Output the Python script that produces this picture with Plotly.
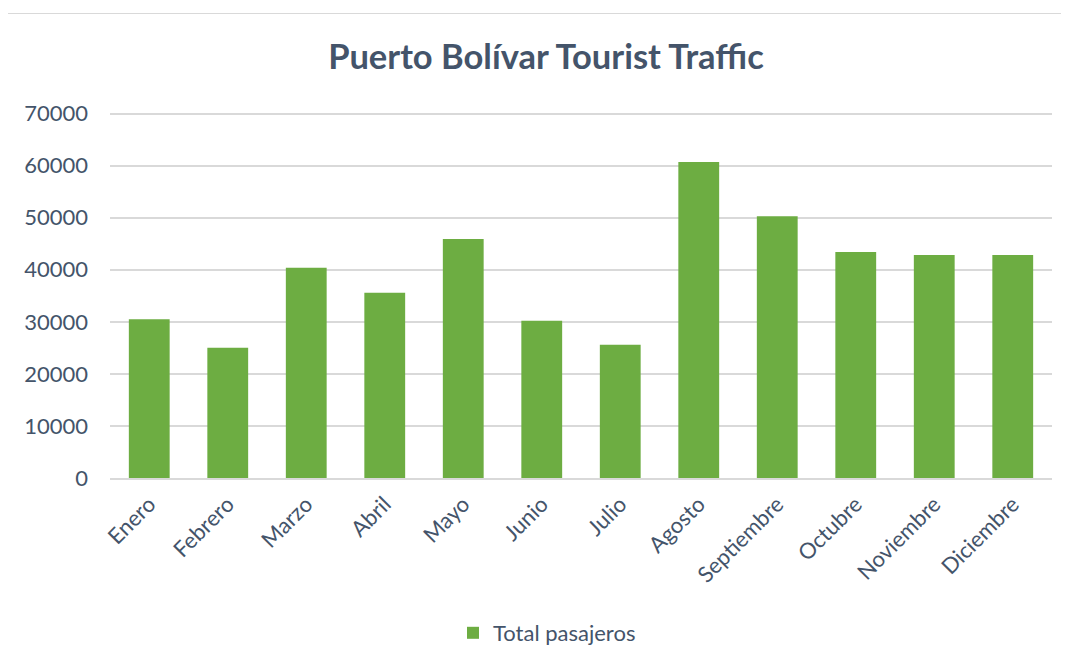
import plotly.graph_objects as go

# monthly passengers
months = ["Enero", "Febrero", "Marzo", "Abril", "Mayo", "Junio", "Julio",
          "Agosto", "Septiembre", "Octubre", "Noviembre", "Diciembre"]
total_pasajeros = [30500, 25000, 40400, 35600, 45900, 30200, 25600,
                   60700, 50300, 43400, 42850, 42850]
y_ticks = [0, 10000, 20000, 30000, 40000, 50000, 60000, 70000]

# page body has an 8px margin, so the figure starts at (8, 8) in the window
OFF = 8
W, H = 1069 - OFF, 664 - OFF
L, R, T, B = 110 - OFF, 17, 112 - OFF, 186
text_col = "#44546A"
grid_col = "#D9D9D9"


def px_x(p):
    return (p - OFF - L) / (W - L - R)


def px_y(p):
    return (H - B - (p - OFF)) / (H - T - B)


fig = go.Figure()
fig.add_trace(go.Bar(x=months, y=total_pasajeros, name="Total pasajeros",
                     marker=dict(color="#6DAD42", line=dict(width=0))))

fig.update_layout(
    width=W, height=H,
    margin=dict(l=L, r=R, t=T, b=B, autoexpand=False),
    paper_bgcolor="white", plot_bgcolor="white",
    font=dict(family="Lato, 'Open Sans', sans-serif", color=text_col, size=22),
    title=dict(text="<b>Puerto Bolívar Tourist Traffic</b>", x=px_x(546), xanchor="center",
               xref="paper", y=1 - (57 - OFF) / H, yanchor="middle",
               font=dict(size=34.5, color=text_col)),
    bargap=0.48,
    showlegend=True,
    legend=dict(orientation="h", x=px_x(547), xanchor="center", y=px_y(633), yanchor="middle",
                font=dict(size=22, color=text_col), itemwidth=30),
    shapes=[dict(type="rect", xref="paper", yref="paper",
                 x0=px_x(5.5), x1=px_x(1067.5), y0=px_y(680), y1=px_y(13.5),
                 line=dict(color=grid_col, width=1), layer="below")],
)
fig.update_xaxes(tickangle=-45, showgrid=False, showline=True, linecolor=grid_col,
                 linewidth=1.5, ticks="", ticklabelstandoff=3,
                 tickfont=dict(size=22, color=text_col))
fig.update_yaxes(range=[0, 70300], tickvals=y_ticks, tickformat="d", showgrid=True,
                 gridcolor=grid_col, gridwidth=1.5, zeroline=False, showline=False,
                 ticks="", ticklabelstandoff=21, tickfont=dict(size=22, color=text_col))

fig.write_html("out.html")
